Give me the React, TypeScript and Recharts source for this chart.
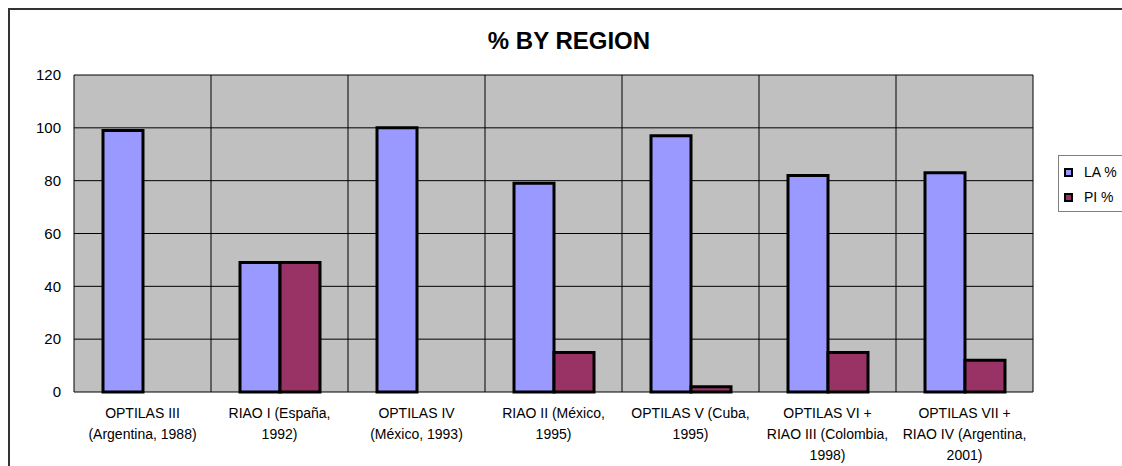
import { BarChart, Bar, XAxis, YAxis, CartesianGrid } from "recharts";

const categories = [
  "OPTILAS III\n(Argentina, 1988)",
  "RIAO I (España,\n1992)",
  "OPTILAS IV\n(México, 1993)",
  "RIAO II (México,\n1995)",
  "OPTILAS V (Cuba,\n1995)",
  "OPTILAS VI +\nRIAO III (Colombia,\n1998)",
  "OPTILAS VII +\nRIAO IV (Argentina,\n2001)",
];
const laValues = [99, 49, 100, 79, 97, 82, 83];
const piValues = [0, 49, 0, 15, 2, 15, 12];
const yTicks = [0, 20, 40, 60, 80, 100, 120];

const series = [
  { key: "la", name: "LA %", color: "#9999FF" },
  { key: "pi", name: "PI %", color: "#993366" },
];

const data = categories.map((name, i) => ({ name, la: laValues[i], pi: piValues[i] }));

const FONT = "Arial, 'Liberation Sans', sans-serif";

// vertical grid lines on the category boundaries, not the centres
function categoryEdges({ xAxis, offset }: any): number[] {
  const scale = xAxis?.scale;
  if (typeof scale === "function" && typeof scale.bandwidth === "function") {
    const bw = scale.bandwidth();
    const edges = categories.map((c) => scale(c));
    edges.push(scale(categories[categories.length - 1]) + bw);
    return edges;
  }
  const step = offset.width / categories.length;
  return [...categories.map((_, i) => offset.left + i * step), offset.left + offset.width];
}

function CategoryTick({ x, y, payload }: any) {
  const lines = String(payload.value).split("\n");
  return (
    <text x={x} y={y} textAnchor="middle" fontFamily={FONT} fontSize={14} fill="#000">
      {lines.map((l, i) => (
        <tspan key={i} x={x} dy={i === 0 ? 18 : 21}>
          {l}
        </tspan>
      ))}
    </text>
  );
}

export default function App() {
  return (
    <>
      <style>{"html,body{margin:0;padding:0;overflow:hidden}"}</style>
      <div
        style={{
          position: "relative",
          marginLeft: 8,
          marginTop: 8,
          width: 1180,
          height: 458,
          overflow: "hidden",
          fontFamily: FONT,
          borderTop: "2px solid #333",
          borderLeft: "2px solid #333",
          boxSizing: "border-box",
        }}
      >
        <div
          style={{
            position: "absolute",
            left: -2,
            top: 19,
            width: 1122,
            textAlign: "center",
            fontSize: 24,
            lineHeight: "24px",
            fontWeight: "bold",
            color: "#000",
          }}
        >
          % BY REGION
        </div>
        <div style={{ position: "absolute", left: -2, top: -2 }}>
          <BarChart
            width={1114}
            height={458}
            data={data}
            margin={{ top: 67, right: 89, bottom: 0, left: 0 }}
            barSize={40}
            barGap={0}
          >
            <CartesianGrid
              fill="#C0C0C0"
              fillOpacity={1}
              stroke="#000"
              strokeWidth={1}
              verticalCoordinatesGenerator={categoryEdges}
            />
            <XAxis
              dataKey="name"
              interval={0}
              height={74}
              axisLine={false}
              tickLine={false}
              tick={<CategoryTick />}
            />
            <YAxis
              domain={[0, 120]}
              ticks={yTicks}
              width={66}
              axisLine={false}
              tickLine={false}
              tickSize={0}
              tickMargin={13}
              tick={{ fontFamily: FONT, fontSize: 15, fill: "#000" }}
            />
            {series.map((s) => (
              <Bar
                key={s.key}
                dataKey={s.key}
                name={s.name}
                fill={s.color}
                stroke="#000"
                strokeWidth={3}
                isAnimationActive={false}
              />
            ))}
          </BarChart>
        </div>
        <div
          style={{
            position: "absolute",
            left: 1048,
            top: 145,
            width: 100,
            height: 57,
            border: "1px solid #808080",
            boxSizing: "border-box",
            background: "#fff",
          }}
        >
          {series.map((s, i) => (
            <div
              key={s.key}
              style={{
                position: "absolute",
                left: 5,
                top: 8 + i * 25,
                display: "flex",
                alignItems: "center",
                fontSize: 14,
              }}
            >
              <div
                style={{ width: 9, height: 9, background: s.color, border: "2px solid #000", boxSizing: "border-box" }}
              />
              <span style={{ marginLeft: 11, lineHeight: "16px", whiteSpace: "nowrap" }}>{s.name}</span>
            </div>
          ))}
        </div>
      </div>
    </>
  );
}
